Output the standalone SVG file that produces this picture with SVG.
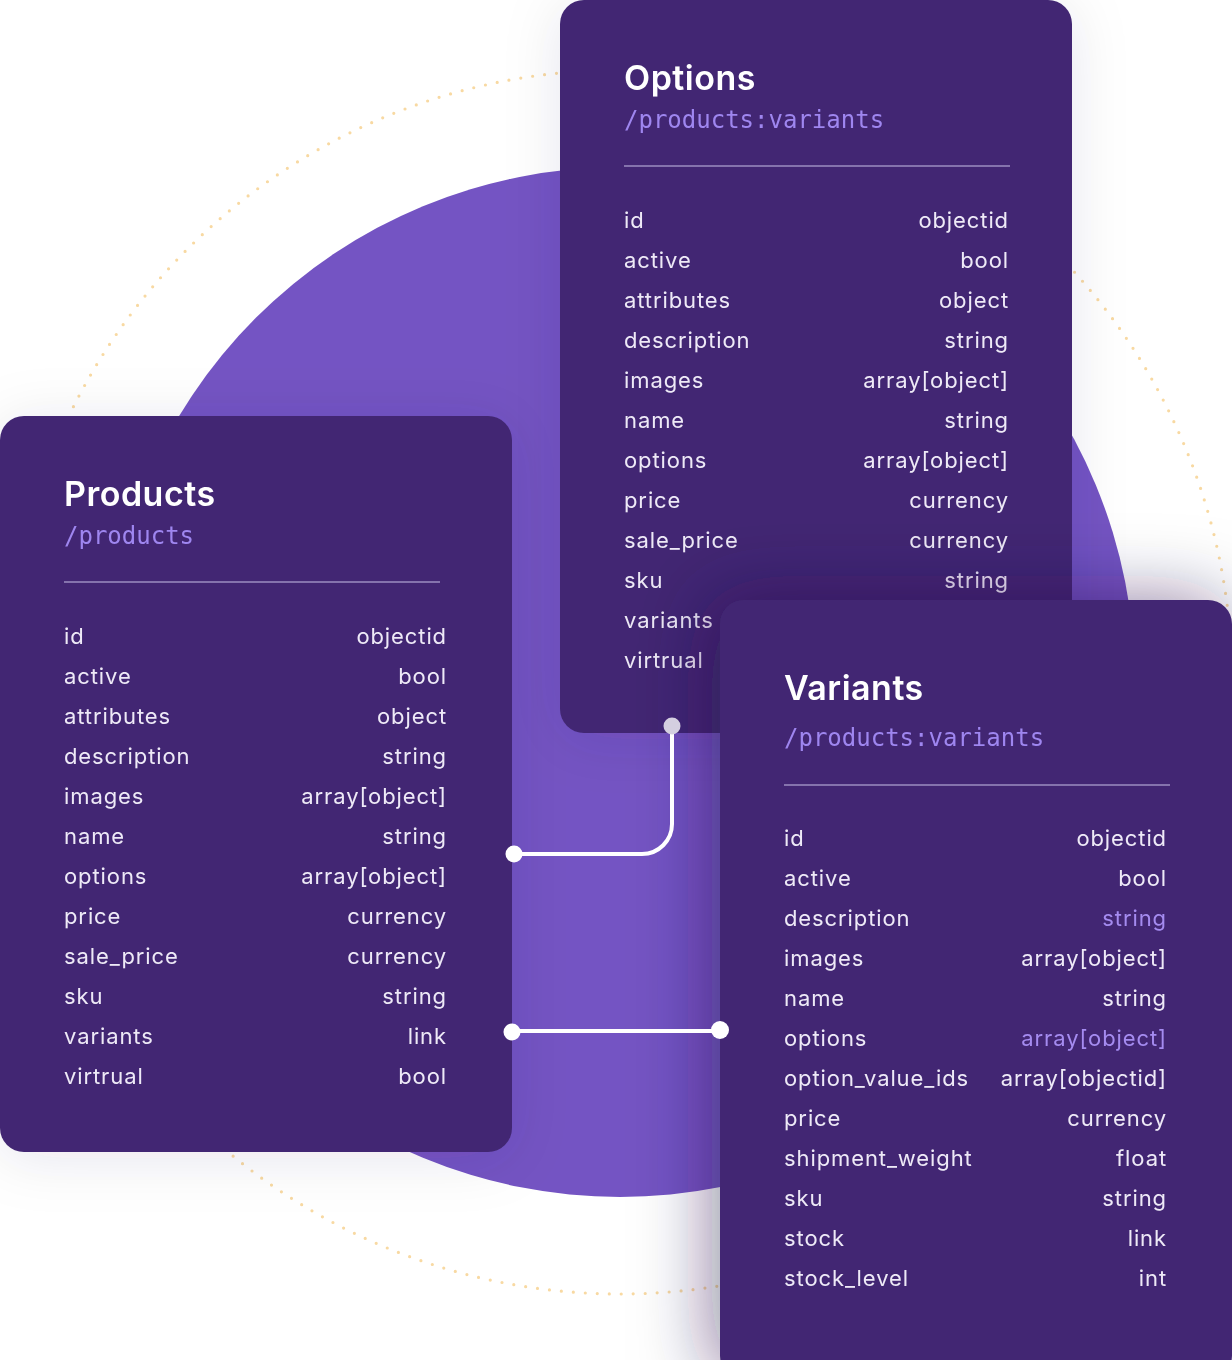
<svg xmlns="http://www.w3.org/2000/svg" width="1232" height="1360" viewBox="0 0 1232 1360">
  <defs>
    <filter id="shadowSoft" x="-30%" y="-30%" width="160%" height="160%">
      <feDropShadow dx="0" dy="6" stdDeviation="28" flood-color="#2a1a55" flood-opacity="0.10"/>
    </filter>
    <filter id="shadowStrong" x="-40%" y="-30%" width="180%" height="160%">
      <feDropShadow dx="-8" dy="0" stdDeviation="36" flood-color="#1e0f45" flood-opacity="0.5"/>
    </filter>
    <style>
      .card { fill: #422873; }
      .title { font-family: Inter, "Noto Sans", sans-serif; font-weight: 600; font-size: 34px; letter-spacing: 0.5px; fill: #ffffff; }
      .path { font-family: "DejaVu Sans Mono", "Liberation Mono", monospace; font-size: 24px; fill: #9F86F0; }
      .rule { stroke: #9C8CC0; stroke-width: 1.5; }
      .k { font-family: Inter, "Noto Sans", sans-serif; font-size: 22px; letter-spacing: 0.9px; fill: #EEE9F7; }
      .v { font-family: Inter, "Noto Sans", sans-serif; font-size: 22px; letter-spacing: 0.9px; fill: #EEE9F7; text-anchor: end; }
      .hl { fill: #A58BF0; }
      .wire { fill: none; stroke: #ffffff; stroke-width: 4; }
      .dot { fill: #ffffff; }
    </style>
  </defs>

  <rect width="1232" height="1360" fill="#ffffff"/>

  <g id="backdrop">
    <circle cx="620" cy="682" r="612" fill="none" stroke="#F8D9A2" stroke-width="3.2" stroke-linecap="round" stroke-dasharray="0 12"/>
    <circle cx="620" cy="682" r="515" fill="#7454C3"/>
  </g>

  <g id="options" filter="url(#shadowSoft)">
    <rect class="card" x="560" y="0" width="512" height="733" rx="24"/>
    <text class="title" x="624" y="90">Options</text>
    <text class="path" x="624" y="128">/products:variants</text>
    <line class="rule" x1="624" y1="166" x2="1010" y2="166"/>
    <text class="k" x="624" y="228">id</text><text class="v" x="1009" y="228">objectid</text>
    <text class="k" x="624" y="268">active</text><text class="v" x="1009" y="268">bool</text>
    <text class="k" x="624" y="308">attributes</text><text class="v" x="1009" y="308">object</text>
    <text class="k" x="624" y="348">description</text><text class="v" x="1009" y="348">string</text>
    <text class="k" x="624" y="388">images</text><text class="v" x="1009" y="388">array[object]</text>
    <text class="k" x="624" y="428">name</text><text class="v" x="1009" y="428">string</text>
    <text class="k" x="624" y="468">options</text><text class="v" x="1009" y="468">array[object]</text>
    <text class="k" x="624" y="508">price</text><text class="v" x="1009" y="508">currency</text>
    <text class="k" x="624" y="548">sale_price</text><text class="v" x="1009" y="548">currency</text>
    <text class="k" x="624" y="588">sku</text><text class="v" x="1009" y="588">string</text>
    <text class="k" x="624" y="628">variants</text>
    <text class="k" x="624" y="668">virtrual</text>
  </g>

  <g id="products" filter="url(#shadowSoft)">
    <rect class="card" x="0" y="416" width="512" height="736" rx="24"/>
    <text class="title" x="64" y="506">Products</text>
    <text class="path" x="64" y="544">/products</text>
    <line class="rule" x1="64" y1="582" x2="440" y2="582"/>
    <text class="k" x="64" y="644">id</text><text class="v" x="447" y="644">objectid</text>
    <text class="k" x="64" y="684">active</text><text class="v" x="447" y="684">bool</text>
    <text class="k" x="64" y="724">attributes</text><text class="v" x="447" y="724">object</text>
    <text class="k" x="64" y="764">description</text><text class="v" x="447" y="764">string</text>
    <text class="k" x="64" y="804">images</text><text class="v" x="447" y="804">array[object]</text>
    <text class="k" x="64" y="844">name</text><text class="v" x="447" y="844">string</text>
    <text class="k" x="64" y="884">options</text><text class="v" x="447" y="884">array[object]</text>
    <text class="k" x="64" y="924">price</text><text class="v" x="447" y="924">currency</text>
    <text class="k" x="64" y="964">sale_price</text><text class="v" x="447" y="964">currency</text>
    <text class="k" x="64" y="1004">sku</text><text class="v" x="447" y="1004">string</text>
    <text class="k" x="64" y="1044">variants</text><text class="v" x="447" y="1044">link</text>
    <text class="k" x="64" y="1084">virtrual</text><text class="v" x="447" y="1084">bool</text>
  </g>

  <g id="variants" filter="url(#shadowStrong)">
    <rect class="card" x="720" y="600" width="512" height="780" rx="24"/>
    <text class="title" x="784" y="700">Variants</text>
    <text class="path" x="784" y="746">/products:variants</text>
    <line class="rule" x1="784" y1="785" x2="1170" y2="785"/>
    <text class="k" x="784" y="846">id</text><text class="v" x="1167" y="846">objectid</text>
    <text class="k" x="784" y="886">active</text><text class="v" x="1167" y="886">bool</text>
    <text class="k" x="784" y="926">description</text><text class="v hl" x="1167" y="926">string</text>
    <text class="k" x="784" y="966">images</text><text class="v" x="1167" y="966">array[object]</text>
    <text class="k" x="784" y="1006">name</text><text class="v" x="1167" y="1006">string</text>
    <text class="k" x="784" y="1046">options</text><text class="v hl" x="1167" y="1046">array[object]</text>
    <text class="k" x="784" y="1086">option_value_ids</text><text class="v" x="1167" y="1086">array[objectid]</text>
    <text class="k" x="784" y="1126">price</text><text class="v" x="1167" y="1126">currency</text>
    <text class="k" x="784" y="1166">shipment_weight</text><text class="v" x="1167" y="1166">float</text>
    <text class="k" x="784" y="1206">sku</text><text class="v" x="1167" y="1206">string</text>
    <text class="k" x="784" y="1246">stock</text><text class="v" x="1167" y="1246">link</text>
    <text class="k" x="784" y="1286">stock_level</text><text class="v" x="1167" y="1286">int</text>
  </g>

  <g id="connectors">
    <path class="wire" d="M672 726 V824 A30 30 0 0 1 642 854 H514"/>
    <circle cx="672" cy="726" r="8.5" fill="#D4CFE0"/>
    <circle class="dot" cx="514" cy="854" r="8.5"/>
    <line class="wire" x1="512" y1="1031" x2="720" y2="1031"/>
    <circle class="dot" cx="512" cy="1032" r="8.5"/>
    <circle class="dot" cx="720" cy="1030" r="9"/>
  </g>
</svg>
